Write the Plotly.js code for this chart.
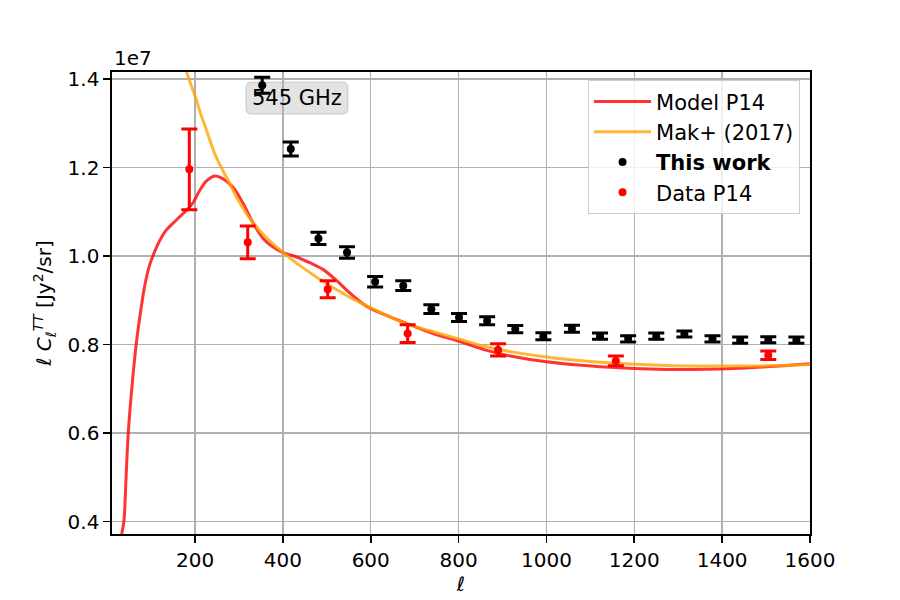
<!DOCTYPE html>
<html>
<head>
<meta charset="utf-8">
<script src="https://cdn.plot.ly/plotly-3.0.1.min.js"></script>
<style>html,body{margin:0;padding:0;background:#fff;}#chart{width:900px;height:600px;}</style>
</head>
<body>
<div id="chart"></div>
<script>
// Values of ell*C_ell in units of 1e7 Jy^2/sr
const modelEll = [33, 38, 43, 48, 56, 66, 74, 85, 96, 108, 120, 134, 157, 180, 195, 210, 225, 245, 263, 286, 309, 332, 355, 377, 400, 431, 461, 491, 522, 552, 590, 636, 681, 742, 803, 864, 924, 1000, 1122, 1274, 1425, 1501, 1600];
const modelVal = [0.372, 0.40, 0.50, 0.60, 0.70, 0.80, 0.86, 0.93, 0.978, 1.010, 1.036, 1.058, 1.081, 1.103, 1.120, 1.147, 1.169, 1.181, 1.175, 1.156, 1.120, 1.075, 1.040, 1.021, 1.008, 0.998, 0.985, 0.970, 0.945, 0.917, 0.887, 0.866, 0.848, 0.825, 0.807, 0.787, 0.773, 0.761, 0.750, 0.744, 0.746, 0.750, 0.757];

const makEll = [176, 181, 192, 203, 214, 226, 237, 248, 260, 271, 283, 294, 306, 317, 332, 347, 362, 377, 392, 408, 423, 438, 457, 476, 495, 514, 533, 552, 571, 590, 628, 666, 704, 742, 803, 864, 924, 1000, 1122, 1274, 1425, 1501, 1600];
const makVal = [1.435, 1.416, 1.384, 1.353, 1.318, 1.285, 1.253, 1.224, 1.200, 1.179, 1.156, 1.134, 1.114, 1.096, 1.076, 1.058, 1.042, 1.028, 1.015, 1.002, 0.990, 0.979, 0.966, 0.953, 0.941, 0.929, 0.918, 0.907, 0.897, 0.888, 0.870, 0.853, 0.840, 0.829, 0.812, 0.795, 0.783, 0.772, 0.760, 0.753, 0.7515, 0.752, 0.755];

const workEll = [353, 418, 481, 546, 610, 674, 738, 801, 865, 929, 993, 1058, 1122, 1186, 1250, 1314, 1378, 1441, 1505, 1569];
const workVal = [1.386, 1.242, 1.040, 1.008, 0.942, 0.933, 0.880, 0.861, 0.854, 0.835, 0.819, 0.836, 0.819, 0.813, 0.819, 0.824, 0.813, 0.810, 0.811, 0.810];
const workErr = [0.018, 0.016, 0.014, 0.013, 0.012, 0.011, 0.010, 0.009, 0.009, 0.008, 0.008, 0.008, 0.007, 0.007, 0.007, 0.007, 0.007, 0.007, 0.007, 0.007];

const p14Ell = [187, 320, 502, 684, 890, 1158, 1505];
const p14Val = [1.196, 1.031, 0.925, 0.825, 0.788, 0.763, 0.776];
const p14Err = [0.091, 0.037, 0.019, 0.020, 0.014, 0.011, 0.0095];

const xTicks = [200, 400, 600, 800, 1000, 1200, 1400, 1600];
const yTicks = [0.4, 0.6, 0.8, 1.0, 1.2, 1.4];

const FONT = "DejaVu Sans, sans-serif";

const traces = [
  {x: modelEll, y: modelVal, mode: 'lines', name: 'Model P14', legendgroup: 'a',
   line: {color: 'rgba(255,0,0,0.8)', width: 3, shape: 'spline', smoothing: 1}},
  {x: makEll, y: makVal, mode: 'lines', name: 'Mak+ (2017)', legendgroup: 'b',
   line: {color: 'rgba(255,165,0,0.8)', width: 3, shape: 'spline', smoothing: 1}},
  {x: workEll, y: workVal, mode: 'markers', name: '<b>This work</b>', legendgroup: 'c',
   marker: {color: 'black', size: 8},
   error_y: {type: 'data', array: workErr, visible: true, color: 'black', thickness: 3, width: 8}},
  {x: p14Ell, y: p14Val, mode: 'markers', name: 'Data P14', legendgroup: 'd',
   marker: {color: 'red', size: 8},
   error_y: {type: 'data', array: p14Err, visible: true, color: 'red', thickness: 3, width: 8}}
];

const axisCommon = {
  showline: true, mirror: true, linecolor: 'black', linewidth: 1.6,
  ticks: 'outside', ticklen: 7, tickwidth: 1.6, tickcolor: 'black',
  showgrid: true, gridcolor: '#b0b0b0', gridwidth: 1.5, zeroline: false,
  tickfont: {family: FONT, size: 20, color: 'black'}
};

// rounded box behind the "545 GHz" label (paper coordinates)
const bx0 = 0.192, bx1 = 0.338, by0 = 0.909, by1 = 0.978, rx = 0.008, ry = 0.012;
const boxPath = `M ${bx0+rx},${by0} L ${bx1-rx},${by0} Q ${bx1},${by0} ${bx1},${by0+ry} L ${bx1},${by1-ry} Q ${bx1},${by1} ${bx1-rx},${by1} L ${bx0+rx},${by1} Q ${bx0},${by1} ${bx0},${by1-ry} L ${bx0},${by0+ry} Q ${bx0},${by0} ${bx0+rx},${by0} Z`;

const layout = {
  width: 900, height: 600,
  paper_bgcolor: 'white', plot_bgcolor: 'white',
  margin: {l: 112, r: 90, t: 72, b: 66},
  font: {family: FONT, color: 'black'},
  showlegend: true,
  xaxis: Object.assign({}, axisCommon, {
    range: [11, 1600], tickvals: xTicks, ticktext: xTicks.map(String),
    title: {text: '<i>ℓ</i>', font: {family: FONT, size: 20}, standoff: 2}
  }),
  yaxis: Object.assign({}, axisCommon, {
    range: [0.372, 1.416], tickvals: yTicks, ticktext: yTicks.map(v => v.toFixed(1)),
    title: {text: '<i>ℓ C</i><sub><i>ℓ</i></sub><sup><i>TT</i></sup> [Jy<sup>2</sup>/sr]', font: {family: FONT, size: 20}, standoff: 10}
  }),
  legend: {
    x: 0.682, y: 0.982, xanchor: 'left', yanchor: 'top',
    bgcolor: 'rgba(255,255,255,0.8)', bordercolor: '#cccccc', borderwidth: 1,
    font: {family: FONT, size: 21, color: 'black'},
    traceorder: 'grouped', tracegroupgap: 0, itemwidth: 57
  },
  shapes: [
    {type: 'path', xref: 'paper', yref: 'paper', path: boxPath, layer: 'between',
     fillcolor: 'rgba(200,200,200,0.5)', line: {color: 'rgba(160,160,160,0.5)', width: 1}}
  ],
  annotations: [
    {xref: 'paper', yref: 'paper', x: 0, y: 1, xanchor: 'left', yanchor: 'bottom',
     text: '1e7', showarrow: false, font: {family: FONT, size: 20, color: 'black'}},
    {xref: 'paper', yref: 'paper', x: 0.265, y: 0.944, xanchor: 'center', yanchor: 'middle',
     text: '545 GHz', showarrow: false, font: {family: FONT, size: 21, color: 'black'}}
  ]
};

Plotly.newPlot('chart', traces, layout, {displayModeBar: false, staticPlot: true});
</script>
</body>
</html>
